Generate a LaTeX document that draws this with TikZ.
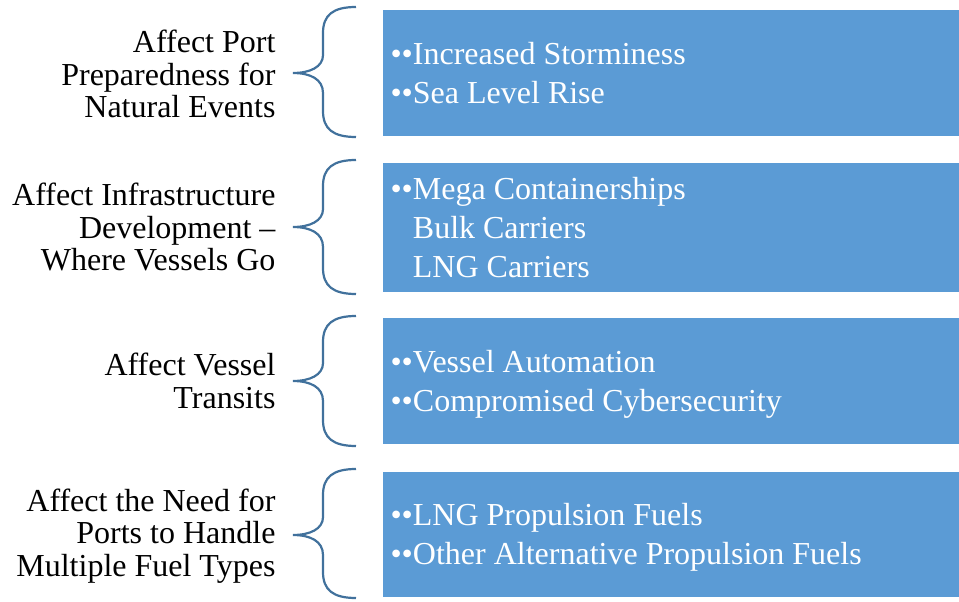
\documentclass[tikz,border=0pt]{standalone}
\usepackage{fontspec}
\setmainfont{Liberation Serif}
\usetikzlibrary{positioning}

\definecolor{boxblue}{HTML}{5B9BD5}
\definecolor{braceblue}{HTML}{41719C}

% curly brace: top y, tip y, bottom y (picture units, y downwards)
\newcommand{\curlybrace}[3]{%
  \draw[bracestroke] (356,#1) .. controls (333,#1) and (323,#1+8) .. (323,#1+26)
    -- (323,#2-18) .. controls (323,#2-6) and (310,#2) .. (293,#2)
    .. controls (310,#2) and (323,#2+6) .. (323,#2+20)
    -- (323,#3-26) .. controls (323,#3-8) and (333,#3) .. (356,#3);}

\begin{document}
\begin{tikzpicture}[
        x=1pt, y=-1pt,
        % Styles
        itembox/.style={rectangle, fill=boxblue, minimum width=576pt, inner sep=0pt, anchor=north west},
        itemtext/.style={anchor=west, align=left, text=white, font=\fontsize{32}{39}\selectfont},
        effect/.style={anchor=east, align=right, text=black, font=\fontsize{32}{32.5}\selectfont},
        bracestroke/.style={draw=braceblue, line width=2.2pt}
    ]
    \useasboundingbox (0,0) rectangle (959,602);

    % ================= BLUE BOXES =================
    \node[itembox, minimum height=126pt] (storm) at (383,10) {};
    \node[itembox, minimum height=129pt] (vessels) at (383,163) {};
    \node[itembox, minimum height=126pt] (transit) at (383,318) {};
    \node[itembox, minimum height=125pt] (fuels) at (383,472) {};

    % ================= BOX TEXTS =================
    \node[itemtext] (stormtext) at (387,73) {\textbullet\textbullet Increased Storminess\\\textbullet\textbullet Sea Level Rise};
    \node[itemtext] (vesselstext) at (387,228) {\textbullet\textbullet Mega Containerships\\\phantom{\textbullet\textbullet}Bulk Carriers\\\phantom{\textbullet\textbullet}LNG Carriers};
    \node[itemtext] (transittext) at (387,384) {\textbullet\textbullet Vessel Automation\\\textbullet\textbullet Compromised Cybersecurity};
    \node[itemtext] (fuelstext) at (387,537) {\textbullet\textbullet LNG Propulsion Fuels\\\textbullet\textbullet Other Alternative Propulsion Fuels};

    % ================= BRACES =================
    \curlybrace{7}{73}{137}
    \curlybrace{160}{227}{294}
    \curlybrace{316}{381}{446}
    \curlybrace{469}{535}{598}

    % ================= LEFT LABELS =================
    \node[effect] (port) at (279,74) {Affect Port\\Preparedness for\\Natural Events};
    \node[effect] (infra) at (279,227) {Affect Infrastructure\\Development --\\Where Vessels Go};
    \node[effect] (transits) at (279,381) {Affect Vessel\\Transits};
    \node[effect] (needs) at (279,536) {Affect the Need for\\Ports to Handle\\Multiple Fuel Types};

\end{tikzpicture}
\end{document}
